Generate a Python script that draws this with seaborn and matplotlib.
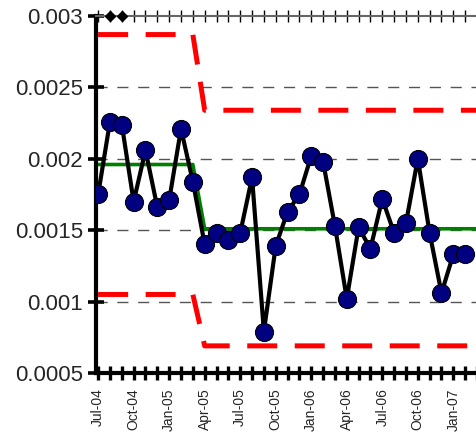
import matplotlib
matplotlib.use("Agg")
import matplotlib.pyplot as plt
import pandas as pd
import seaborn as sns

# ---- data ----
months = ["Jul-04", "Aug-04", "Sep-04", "Oct-04", "Nov-04", "Dec-04",
          "Jan-05", "Feb-05", "Mar-05", "Apr-05", "May-05", "Jun-05",
          "Jul-05", "Aug-05", "Sep-05", "Oct-05", "Nov-05", "Dec-05",
          "Jan-06", "Feb-06", "Mar-06", "Apr-06", "May-06", "Jun-06",
          "Jul-06", "Aug-06", "Sep-06", "Oct-06", "Nov-06", "Dec-06",
          "Jan-07", "Feb-07", "Mar-07"]
values = [0.00175, 0.00226, 0.00224, 0.00170, 0.00206, 0.00166,
          0.00171, 0.00221, 0.00184, 0.00140, 0.00148, 0.00143,
          0.00148, 0.00187, 0.00079, 0.00139, 0.00163, 0.00175,
          0.00202, 0.00198, 0.00153, 0.00102, 0.00152, 0.00137,
          0.00172, 0.00148, 0.00155, 0.00200, 0.00148, 0.00106,
          0.00133, 0.00133]
center = [0.00196] * 9 + [0.00151] * 24
ucl = [0.00287] * 9 + [0.00234] * 24
lcl = [0.00105] * 9 + [0.00069] * 24
flagged = ["Aug-04", "Sep-04"]
xtick_labels = ["Jul-04", "Oct-04", "Jan-05", "Apr-05", "Jul-05", "Oct-05",
                "Jan-06", "Apr-06", "Jul-06", "Oct-06", "Jan-07"]
ytick_values = [0.0005, 0.001, 0.0015, 0.002, 0.0025, 0.003]
ytick_labels = ["0.0005", "0.001", "0.0015", "0.002", "0.0025", "0.003"]

sns.set_style("white")
plt.rcParams["font.family"] = ["Liberation Sans", "DejaVu Sans"]

W, H = 477, 437
fig = plt.figure(figsize=(W / 100, H / 100), dpi=100)
ax = fig.add_axes([96 / W, (H - 373) / H, (W - 96) / W, (373 - 16) / H])

idx = {m: i for i, m in enumerate(months)}
lim_df = pd.DataFrame({"x": range(len(months)), "center": center,
                       "ucl": ucl, "lcl": lcl})
data_df = pd.DataFrame({"x": range(len(values)), "value": values})

# grid
for yv in ytick_values[1:-1]:
    ax.axhline(yv, color="#555555", lw=1, ls=(0, (8, 7)), zorder=0.5)

# control limits
for col in ["ucl", "lcl"]:
    sns.lineplot(data=lim_df, x="x", y=col, ax=ax, color="#ff0000",
                 linewidth=3.6, dashes=False, zorder=2)
for line in ax.get_lines()[-2:]:
    line.set_linestyle((0, (6, 3.5)))
sns.lineplot(data=lim_df, x="x", y="center", ax=ax, color="#008000",
             linewidth=2.6, zorder=2.5)

# data
sns.lineplot(data=data_df, x="x", y="value", ax=ax, color="black",
             linewidth=3, marker="o", markersize=13,
             markerfacecolor="#000080", markeredgecolor="black",
             markeredgewidth=0.8, zorder=3)

# flagged diamonds at top
fx = [idx[m] for m in flagged]
ax.plot(fx, [0.003] * len(fx), ls="none", marker="D", markersize=5.5,
        color="black", clip_on=False, zorder=5)

ax.set_xlim(-0.18, 31.7)
ax.set_ylim(0.0005, 0.003)
ax.set_xlabel("")
ax.set_ylabel("")

ax.set_yticks(ytick_values)
ax.set_yticklabels(ytick_labels, fontsize=16)
ax.set_xticks(range(len(months)))
ax.set_xticklabels([m if m in xtick_labels else "" for m in months],
                   rotation=90, fontsize=10)
ax.tick_params(axis="y", direction="inout", length=11, width=2.6,
               color="black", pad=4, left=True)
ax.tick_params(axis="x", direction="inout", length=10, width=2.4,
               color="black", pad=6, bottom=True)

for s in ["left", "bottom"]:
    ax.spines[s].set_linewidth(3)
    ax.spines[s].set_color("black")
ax.spines["right"].set_visible(False)
ax.spines["top"].set_color("#666666")
ax.spines["top"].set_linewidth(1.5)

sec = ax.secondary_xaxis("top")
sec.set_xticks(range(len(months)))
sec.set_xticklabels([])
sec.tick_params(direction="inout", length=8, width=1, color="black")
sec.spines["top"].set_visible(False)

fig.savefig("out.png", dpi=100)
